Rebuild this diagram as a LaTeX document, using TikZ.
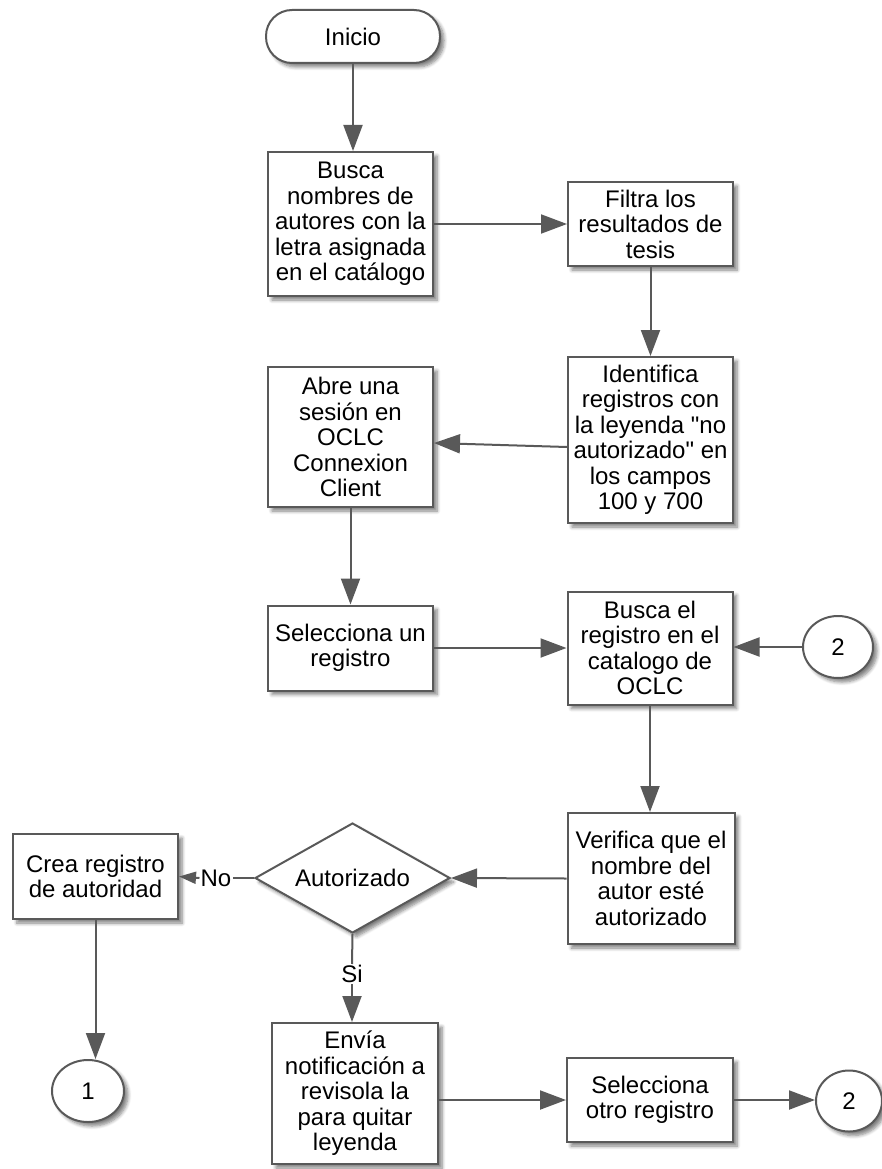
\documentclass[tikz,border=0pt]{standalone}
\usepackage{fontspec}
\newfontfamily\flowfont{Liberation Sans}
\usetikzlibrary{shapes.geometric,arrows.meta,shadows.blur,calc}
\definecolor{edge}{HTML}{595959}
\begin{document}
\begin{tikzpicture}[x=1pt,y=-1pt,
  font=\flowfont\fontsize{24}{25.5}\selectfont,
  softshadow/.style={blur shadow={shadow xshift=4pt,shadow yshift=-4pt,shadow blur steps=6,shadow opacity=50,shadow blur radius=3.5pt}},
  box/.style={draw=edge,line width=2pt,fill=white,softshadow,align=center,inner sep=0pt,minimum width=165pt},
  term/.style={box,rounded corners=26pt,minimum width=174pt,minimum height=53pt},
  conn/.style={ellipse,draw=edge,line width=2pt,fill=white,softshadow,inner sep=0pt},
  decision/.style={diamond,draw=edge,line width=2pt,fill=white,softshadow,inner sep=0pt,shape aspect=1.77,minimum width=195pt,minimum height=110pt},
  arr/.style={draw=edge,line width=2pt,-{Triangle[length=26pt,width=19pt]}},
  smallarr/.style={draw=edge,line width=2pt,-{Triangle[length=17pt,width=12pt]}},
  plainline/.style={draw=edge,line width=2pt},
  lbl/.style={inner sep=1pt}
]
\useasboundingbox (0,0) rectangle (881,1169);

% process steps
\node[term] (inicio) at (353,36.5) {Inicio};
\node[box,minimum height=144pt] (busca) at (350.5,224) {Busca\\nombres de\\autores con la\\letra asignada\\en el catálogo};
\node[box,minimum height=84pt] (filtra) at (650.5,224) {Filtra los\\resultados de\\tesis};
\node[box,minimum height=166pt] (ident) at (650.5,440) {Identifica\\registros con\\la leyenda "no\\autorizado" en\\los campos\\100 y 700};
\node[box,minimum height=140pt] (abre) at (350.5,437) {Abre una\\sesión en\\OCLC\\Connexion\\Client};
\node[box,minimum height=85pt] (selun) at (350.5,648) {Selecciona un\\registro};
\node[box,minimum height=113pt] (buscael) at (650,648) {Busca el\\registro en el\\catalogo de\\OCLC};
\node[conn,minimum width=70pt,minimum height=62pt] (c2a) at (838,647) {2};
\node[box,minimum height=131pt,minimum width=167pt] (verif) at (651,878.5) {Verifica que el\\nombre del\\autor esté\\autorizado};
\node[decision] (dec) at (352.5,878) {Autorizado};
\node[box,minimum height=85pt] (crea) at (95.5,876.5) {Crea registro\\de autoridad};
\node[lbl] (no) at (216,878) {No};
\node[conn,minimum width=72pt,minimum height=62pt] (c1) at (88,1091) {1};
\node[lbl] (si) at (352,974) {Si};
\node[box,minimum height=141pt,minimum width=166pt] (envia) at (355,1093.5) {Envía\\notificación a\\revisola la\\para quitar\\leyenda};
\node[box,minimum height=84pt,minimum width=166pt] (selotro) at (650,1100) {Selecciona\\otro registro};
\node[conn,minimum width=66pt,minimum height=61pt] (c2b) at (849,1101) {2};

% connectors
\draw[arr] (inicio.south) -- (inicio.south |- busca.north);
\draw[arr] (busca.east) -- (filtra.west);
\draw[arr] (filtra.south) -- (ident.north);
\draw[arr] ($(ident.west)+(0,7)$) -- ($(abre.east)+(0,6)$);
\draw[arr] (abre.south) -- (selun.north);
\draw[arr] (selun.east) -- (selun.east -| buscael.west);
\draw[arr] (c2a.west) -- (c2a.west -| buscael.east);
\draw[arr] (buscael.south) -- (buscael.south |- verif.north);
\draw[arr] (verif.west) -- (dec.east);
\draw[plainline] (dec.west) -- (no.east);
\draw[smallarr] (no.west) -- (crea.east);
\draw[arr] (crea.south) -- (crea.south |- c1.north);
\draw[plainline] (dec.south) -- (si.north);
\draw[arr] (si.south) -- (si.south |- envia.north);
\draw[arr] (selotro.west -| envia.east) -- (selotro.west);
\draw[arr] (selotro.east) -- (selotro.east -| c2b.west);
\end{tikzpicture}
\end{document}
